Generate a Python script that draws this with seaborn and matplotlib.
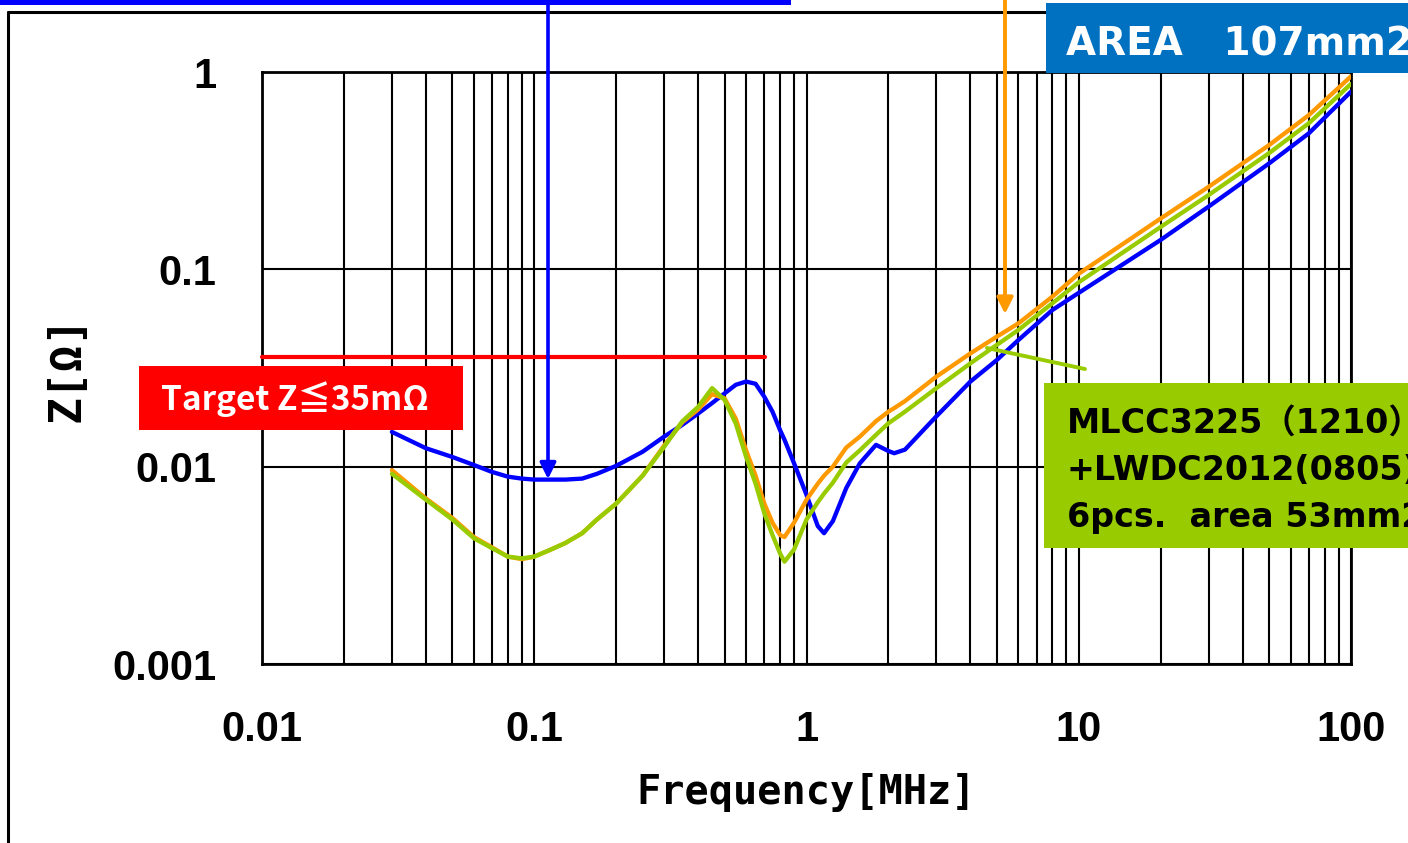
import matplotlib
matplotlib.use("Agg")
import matplotlib.pyplot as plt
import seaborn as sns
import pandas as pd
from matplotlib.patches import Rectangle, FancyArrowPatch
from matplotlib.lines import Line2D
from matplotlib.ticker import FixedLocator, FixedFormatter, LogLocator, NullFormatter

# ---------------- data ----------------
freq_mhz = [0.03, 0.04, 0.05, 0.06, 0.07, 0.08, 0.09, 0.1, 0.115, 0.13, 0.15, 0.17,
            0.2, 0.25, 0.3, 0.35, 0.4, 0.45, 0.5, 0.55, 0.6, 0.65, 0.7, 0.75, 0.8,
            0.83, 0.9, 1.0, 1.1, 1.16, 1.25, 1.4, 1.57, 1.8, 2.0, 2.1, 2.3, 3, 4, 5,
            6, 8, 10, 20, 30, 50, 70, 100]

z_blue = [0.0150, 0.0124, 0.0112, 0.0102, 0.0094, 0.0089, 0.0087, 0.0086, 0.0086,
          0.0086, 0.0087, 0.0092, 0.0101, 0.0119, 0.0142, 0.0163, 0.0186, 0.0210,
          0.0235, 0.0260, 0.0270, 0.0263, 0.0226, 0.0190, 0.0153, 0.0137, 0.0104,
          0.0072, 0.0050, 0.0046, 0.0053, 0.0078, 0.0104, 0.0129, 0.0120, 0.0117,
          0.0122, 0.0180, 0.0270, 0.0347, 0.0438, 0.0622, 0.0760, 0.141, 0.208,
          0.344, 0.489, 0.795]

z_orange = [0.0096, 0.0069, 0.0055, 0.0044, 0.0039, 0.0035, 0.0034, 0.0035, 0.0038,
            0.0041, 0.0046, 0.0054, 0.0065, 0.0090, 0.0128, 0.0168, 0.0195, 0.0233,
            0.0222, 0.0175, 0.0121, 0.0090, 0.0065, 0.0052, 0.0045, 0.0044, 0.0052,
            0.0068, 0.0082, 0.0090, 0.0100, 0.0125, 0.0142, 0.0170, 0.0190, 0.0198,
            0.0215, 0.0286, 0.0375, 0.0456, 0.0532, 0.0727, 0.095, 0.181, 0.262,
            0.426, 0.605, 0.95]

z_green = [0.0092, 0.0068, 0.0054, 0.00434, 0.00386, 0.0035, 0.00343, 0.0035, 0.0038,
           0.0041, 0.0046, 0.0054, 0.0065, 0.0090, 0.0126, 0.0170, 0.0201, 0.0250,
           0.0218, 0.0165, 0.0112, 0.0082, 0.0058, 0.0045, 0.00363, 0.0033, 0.0038,
           0.0054, 0.0066, 0.0073, 0.0083, 0.0105, 0.0121, 0.0145, 0.0166, 0.0174,
           0.0190, 0.0250, 0.0334, 0.0414, 0.0493, 0.0673, 0.086, 0.164, 0.238,
           0.388, 0.55, 0.87]

x_ticks = [0.01, 0.1, 1, 10, 100]
x_tick_labels = ["0.01", "0.1", "1", "10", "100"]
y_ticks = [0.001, 0.01, 0.1, 1]
y_tick_labels = ["0.001", "0.01", "0.1", "1"]

x_title = "Frequency[MHz]"
y_title = "Z[Ω]"
target_text = "Target Z≦35mΩ"
area_text = "AREA   107mm2"
green_lines = ["MLCC3225（1210）_", "+LWDC2012(0805)", "6pcs.  area 53mm2"]

# ---------------- style ----------------
sns.set_theme(style="white")
plt.rcParams['font.family'] = ['DejaVu Sans', 'Noto Sans CJK JP']

BLUE = "#0000FF"
ORANGE = "#FF9900"
GREEN = "#99CC00"
RED = "#FF0000"
BOXBLUE = "#0070C0"

W, H = 1408, 843
fig = plt.figure(figsize=(W / 100, H / 100), dpi=100)
fig.patch.set_facecolor("white")


def fx(px):
    return px / W


def fy(py):
    return 1 - py / H


ax = fig.add_axes([fx(262), fy(664), fx(1351) - fx(262), fy(72) - fy(664)])
ax.set_xscale("log")
ax.set_yscale("log")

df = pd.DataFrame({"f": freq_mhz, "blue": z_blue, "orange": z_orange, "green": z_green})
for col, c in (("blue", BLUE), ("orange", ORANGE), ("green", GREEN)):
    sns.lineplot(data=df, x="f", y=col, color=c, linewidth=3.1, ax=ax, zorder=3)

ax.set_xlim(0.01, 100)
ax.set_ylim(0.001, 1)

ax.xaxis.set_major_locator(FixedLocator(x_ticks))
ax.xaxis.set_major_formatter(FixedFormatter(x_tick_labels))
ax.xaxis.set_minor_locator(LogLocator(base=10, subs=range(2, 10), numticks=30))
ax.xaxis.set_minor_formatter(NullFormatter())
ax.yaxis.set_major_locator(FixedLocator(y_ticks))
ax.yaxis.set_major_formatter(FixedFormatter(y_tick_labels))
ax.yaxis.set_minor_locator(FixedLocator([]))

ax.set_axisbelow(True)
ax.grid(which="major", axis="both", color="black", linewidth=1.5)
ax.grid(which="minor", axis="x", color="black", linewidth=1.5)
for s in ax.spines.values():
    s.set_color("black")
    s.set_linewidth(2.0)

ax.tick_params(axis="both", which="both", length=0, pad=33)
for lab in ax.get_xticklabels() + ax.get_yticklabels():
    lab.set_fontfamily(["Liberation Sans", "DejaVu Sans"])
    lab.set_fontsize(30)
    lab.set_fontweight("bold")
    lab.set_color("black")

ax.set_xlabel(x_title, fontsize=29, fontweight="bold",
              family=["DejaVu Sans Mono", "DejaVu Sans"], color="black")
ax.set_ylabel(y_title, fontsize=32, fontweight="bold",
              family=["DejaVu Sans Mono", "DejaVu Sans"], color="black")
ax.xaxis.set_label_coords(0.5, (664 - 773) / 592)
ax.yaxis.set_label_coords((89 - 262) / 1089, 0.5)

# ---------------- annotations (figure pixel coords) ----------------
tf = fig.transFigure

# outer frame lines
fig.add_artist(Line2D([fx(8), fx(8)], [fy(12), fy(845)], transform=tf, color="black", lw=2.2))
fig.add_artist(Line2D([fx(8), fx(1046)], [fy(12), fy(12)], transform=tf, color="black", lw=2.2))

# blue bar at top (bottom edge of a box above)
fig.add_artist(Rectangle((fx(0), fy(5)), fx(791), fy(0) - fy(5), transform=tf,
                         facecolor=BLUE, edgecolor="none"))

# blue arrow
fig.add_artist(FancyArrowPatch((fx(548), fy(5)), (fx(548), fy(479)), transform=tf,
                               arrowstyle="-|>", mutation_scale=24, color=BLUE, lw=2.6,
                               shrinkA=0, shrinkB=0, zorder=5))
# orange arrow
fig.add_artist(FancyArrowPatch((fx(1005), fy(0)), (fx(1005), fy(314)), transform=tf,
                               arrowstyle="-|>", mutation_scale=24, color=ORANGE, lw=2.8,
                               shrinkA=0, shrinkB=0, zorder=5))

# AREA box
fig.add_artist(Rectangle((fx(1046), fy(73)), fx(1420) - fx(1046), fy(3) - fy(73), transform=tf,
                         facecolor=BOXBLUE, edgecolor="none", zorder=4))
fig.text(fx(1066), fy(56), area_text, color="white", fontsize=28, fontweight="bold",
         va="baseline", ha="left", zorder=6)

# red target line and box
fig.add_artist(Line2D([fx(262), fx(765)], [fy(357), fy(357)], transform=tf, color=RED, lw=3.0, zorder=4))
fig.add_artist(Rectangle((fx(139), fy(430)), fx(463) - fx(139), fy(366) - fy(430), transform=tf,
                         facecolor=RED, edgecolor="none", zorder=4))
fig.text(fx(161), fy(410), target_text, color="white", fontsize=24, fontweight="bold",
         family=["Noto Sans CJK JP", "DejaVu Sans"], va="baseline", ha="left", zorder=6)

# green pointer and box
fig.add_artist(Line2D([fx(987), fx(1085)], [fy(348), fy(369)], transform=tf, color=GREEN, lw=2.8, zorder=4))
fig.add_artist(Rectangle((fx(1044), fy(548)), fx(1420) - fx(1044), fy(383) - fy(548), transform=tf,
                         facecolor=GREEN, edgecolor="none", zorder=4))
for i, line in enumerate(green_lines):
    fig.text(fx(1067), fy(433 + 47 * i), line, color="black", fontsize=24, fontweight="bold",
             family=["DejaVu Sans", "Noto Sans CJK JP"], va="baseline", ha="left", zorder=6)

fig.savefig("out.png", dpi=100, facecolor="white")
